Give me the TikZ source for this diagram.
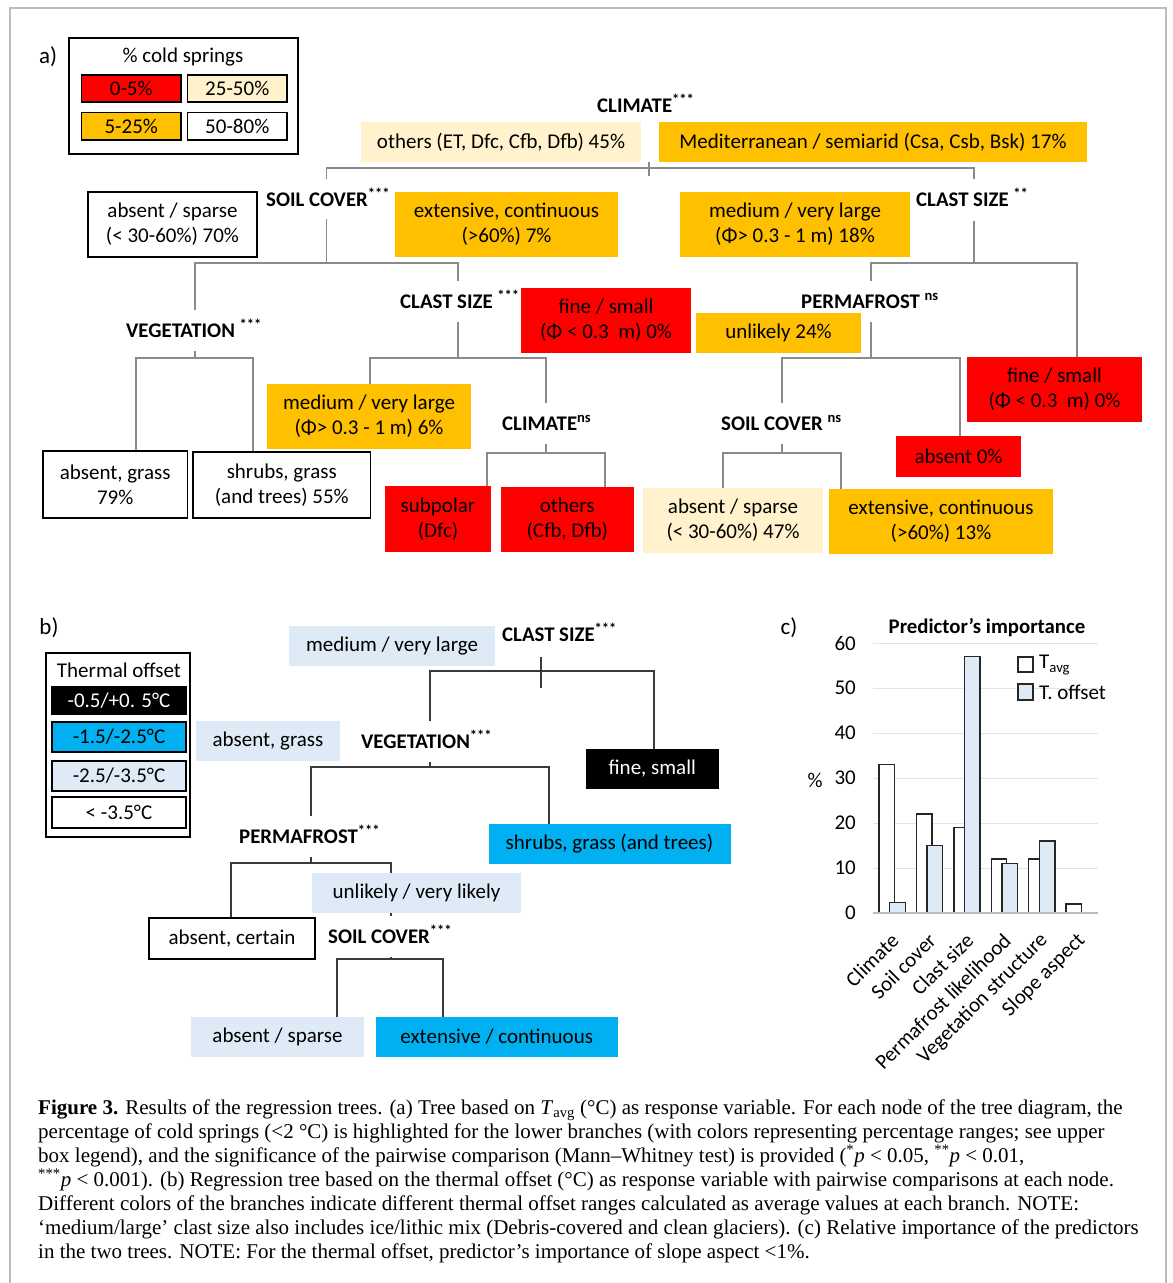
\documentclass[tikz,border=0pt]{standalone}
\usepackage{fontspec}
\setmainfont{Carlito}
\newfontfamily\capfont{Liberation Serif}
\definecolor{cRed}{HTML}{FF0000}
\definecolor{cOr}{HTML}{FFC000}
\definecolor{cCr}{HTML}{FFF2CC}
\definecolor{cLb}{HTML}{DEEBF7}
\definecolor{cBl}{HTML}{00B0F0}
\definecolor{cLnA}{HTML}{8A8A8A}
\definecolor{cLnB}{HTML}{3A3A3A}
\definecolor{cFr}{HTML}{BDBDBD}
\definecolor{cGrid}{HTML}{E3E3E3}
\newcommand\bx[7]{\node[tb,#6,minimum width={#4-#2},minimum height={#5-#3}] (#1) at ({(#2+#4)/2},{(#3+#5)/2}) {#7};}
\begin{document}
\begin{tikzpicture}[x=1pt,y=-1pt,
  tb/.style={inner sep=0pt, align=center, font=\fontsize{21}{25}\selectfont, text=black},
  lab/.style={inner sep=0pt, font=\bfseries\fontsize{20.8}{22}\selectfont, anchor=base west},
  la/.style={draw=cLnA, line width=1.3pt},
  lb/.style={draw=cLnB, line width=2pt},
  bord/.style={draw=black, line width=1.6pt},
  capl/.style={inner sep=0pt, anchor=base west, font=\capfont\fontsize{21}{24}\selectfont},
  bar/.style={draw=black!85, line width=1.4pt},
  tick/.style={inner sep=0pt, anchor=east, font=\fontsize{21}{24}\selectfont},
  xl/.style={inner sep=0pt, anchor=east, rotate=45, font=\fontsize{21}{24}\selectfont}]
\useasboundingbox (0,0) rectangle (1173,1283);
\fill[white] (0,0) rectangle (1173,1283);
\draw[cFr, line width=1.2pt] (10,1300) -- (10,8) -- (1166,8) -- (1166,1300);

% ================= PART A =================
\node[inner sep=0pt, font=\fontsize{23}{24}\selectfont] (pa) at (48,57) {a)};
% legend
\node[draw=black, line width=1.8pt, minimum width=229, minimum height=116, inner sep=0pt] (lega) at (183.5,96) {};
\node[inner sep=0pt, font=\fontsize{21}{24}\selectfont] (legat) at (183,57) {\% cold springs};
\bx{lg1}{81.5}{75}{181}{102}{fill=cRed,bord}{0-5\%}
\bx{lg2}{187.5}{75}{287}{102}{fill=cCr,bord}{25-50\%}
\bx{lg3}{81.5}{112.5}{181}{140}{fill=cOr,bord}{5-25\%}
\bx{lg4}{187.5}{112.5}{287}{140}{fill=white,bord}{50-80\%}

% connector coordinates (part a)
\coordinate (cJ) at (649,168);
\coordinate (tkT) at (649,162); \coordinate (tkB) at (649,176);
\coordinate (soilT) at (326.5,179); \coordinate (clsT) at (974,179);
\coordinate (soilB) at (326.5,219); \coordinate (soilJ) at (326.5,263);
\coordinate (vegT) at (195,310); \coordinate (cl3T) at (458,281);
\coordinate (vegB) at (195,351); \coordinate (vegJ) at (195,358);
\coordinate (agT) at (136,451); \coordinate (shT) at (253,452);
\coordinate (cl3B) at (458,322); \coordinate (cl3J) at (458,358);
\coordinate (m6T) at (370,384); \coordinate (cnsT) at (546,403);
\coordinate (cnsB) at (546,444); \coordinate (cnsJ) at (546,453);
\coordinate (spT) at (487,486); \coordinate (otT) at (605,487);
\coordinate (clsB) at (974,221); \coordinate (clsJ) at (974,263);
\coordinate (pfT) at (871,281); \coordinate (fbT) at (1077,357);
\coordinate (pfB) at (871,322); \coordinate (pfJ) at (871,358);
\coordinate (snsT) at (782,403); \coordinate (a0T) at (960,436);
\coordinate (snsB) at (782,444); \coordinate (snsJ) at (782,453);
\coordinate (s47T) at (723,488); \coordinate (s13T) at (841,489);

\draw[la] (soilT) |- (cJ) -| (clsT);
\draw[la] (tkT) -- (tkB);
\draw[la] (soilB) -- (soilJ);
\draw[la] (vegT) |- (soilJ) -| (cl3T);
\draw[la] (vegB) -- (vegJ);
\draw[la] (agT) |- (vegJ) -| (shT);
\draw[la] (cl3B) -- (cl3J);
\draw[la] (m6T) |- (cl3J) -| (cnsT);
\draw[la] (cnsB) -- (cnsJ);
\draw[la] (spT) |- (cnsJ) -| (otT);
\draw[la] (clsB) -- (clsJ);
\draw[la] (pfT) |- (clsJ) -| (fbT);
\draw[la] (pfB) -- (pfJ);
\draw[la] (snsT) |- (pfJ) -| (a0T);
\draw[la] (snsB) -- (snsJ);
\draw[la] (s47T) |- (snsJ) -| (s13T);

% labels
\node[lab] (climA) at (597,112) {CLIMATE\textsuperscript{***}};
\node[lab] (soilA) at (266,206) {SOIL COVER\textsuperscript{***}};
\node[lab] (clsA) at (916,206) {CLAST SIZE \textsuperscript{**}};
\node[lab] (cl3A) at (400,308) {CLAST SIZE \textsuperscript{***}};
\node[lab] (pfA) at (801,308) {PERMAFROST \textsuperscript{ns}};
\node[lab] (vegA) at (126,337) {VEGETATION \textsuperscript{***}};
\node[lab] (cnsA) at (502,430) {CLIMATE\textsuperscript{ns}};
\node[lab] (snsA) at (721,430) {SOIL COVER \textsuperscript{ns}};

% boxes
\bx{o45}{361}{122}{641}{162}{fill=cCr}{others (ET, Dfc, Cfb, Dfb) 45\%}
\bx{m17}{659}{122}{1087}{162}{fill=cOr}{Mediterranean / semiarid (Csa, Csb, Bsk) 17\%}
\bx{a70}{88}{192}{257}{257}{fill=white,bord}{absent / sparse\\(< 30-60\%) 70\%}
\bx{e7}{395}{192}{618}{257}{fill=cOr}{extensive, continuous\\(>60\%) 7\%}
\bx{m18}{680}{192}{910}{257}{fill=cOr}{medium / very large\\(Φ> 0.3 - 1 m) 18\%}
\bx{f0a}{521}{288}{691}{353}{fill=cRed}{fine / small\\(Φ < 0.3\ \ m) 0\%}
\bx{u24}{696}{313}{861}{353}{fill=cOr}{unlikely 24\%}
\bx{f0b}{967}{357}{1142}{422}{fill=cRed}{fine / small\\(Φ < 0.3\ \ m) 0\%}
\bx{m6}{267}{384}{471}{449}{fill=cOr}{medium / very large\\(Φ> 0.3 - 1 m) 6\%}
\bx{ag79}{43}{451}{187.5}{518}{fill=white,bord}{absent, grass\\79\%}
\bx{sh55}{193}{452}{370.5}{518}{fill=white,bord}{shrubs, grass\\(and trees) 55\%}
\bx{ab0}{896}{436}{1021}{477}{fill=cRed}{absent 0\%}
\bx{sp}{385}{486}{491}{552}{fill=cRed}{subpolar\\(Dfc)}
\bx{ot}{500.5}{487}{634}{552}{fill=cRed}{others\\(Cfb, Dfb)}
\bx{s47}{643}{488}{823}{553}{fill=cCr}{absent / sparse\\(< 30-60\%) 47\%}
\bx{s13}{829}{489}{1053}{554}{fill=cOr}{extensive, continuous\\(>60\%) 13\%}

% ================= PART B =================
\node[inner sep=0pt, font=\fontsize{23}{24}\selectfont] (pb) at (49,628) {b)};
\node[draw=black, line width=1.8pt, minimum width=144, minimum height=184, inner sep=0pt] (legb) at (118,745) {};
\node[inner sep=0pt, font=\fontsize{21}{24}\selectfont] (legbt) at (119,670) {Thermal offset};
\bx{lb1}{52}{687}{186}{714}{fill=black,bord,text=white}{-0.5/+0. 5°C}
\bx{lb2}{52}{722}{186}{752}{fill=cBl,bord}{-1.5/-2.5°C}
\bx{lb3}{52}{761}{186}{791}{fill=cLb,bord}{-2.5/-3.5°C}
\bx{lb4}{52}{797}{186}{828}{fill=white,bord}{< -3.5°C}

\coordinate (bJ) at (541,671);
\coordinate (btT) at (541,657); \coordinate (btB) at (541,688);
\coordinate (bvT) at (430,721); \coordinate (bfT) at (654,749);
\coordinate (bvB) at (430,762); \coordinate (bvJ) at (430,767);
\coordinate (bpT) at (311,816); \coordinate (bsT) at (549,824);
\coordinate (bpB) at (311,857); \coordinate (bpJ) at (311,863);
\coordinate (bacT) at (231,918); \coordinate (bscT) at (391,916);
\coordinate (bscB) at (391,957); \coordinate (bscJ) at (391,959);
\coordinate (bssT) at (337,1017); \coordinate (becT) at (443,1017);

\draw[lb] (bvT) |- (bJ) -| (bfT);
\draw[lb] (btT) -- (btB);
\draw[lb] (bvB) -- (bvJ);
\draw[lb] (bpT) |- (bvJ) -| (bsT);
\draw[lb] (bpB) -- (bpJ);
\draw[lb] (bacT) |- (bpJ) -| (bscT);
\draw[lb] (bscB) -- (bscJ);
\draw[lb] (bssT) |- (bscJ) -| (becT);

\node[lab] (bcl) at (502,641) {CLAST SIZE\textsuperscript{***}};
\node[lab] (bveg) at (361,748) {VEGETATION\textsuperscript{***}};
\node[lab] (bpf) at (239,843) {PERMAFROST\textsuperscript{***}};
\node[lab] (bsc) at (328,943) {SOIL COVER\textsuperscript{***}};

\bx{bm}{289}{626}{495}{666}{fill=cLb}{medium / very large}
\bx{bf}{585.5}{749}{719}{789}{fill=black,text=white}{fine, small}
\bx{bag}{196}{721}{340}{761}{fill=cLb}{absent, grass}
\bx{bsh}{488.5}{824}{730.5}{864}{fill=cBl}{shrubs, grass (and trees)}
\bx{bun}{312}{873}{521}{913}{fill=cLb}{unlikely / very likely}
\bx{bac}{149}{918}{315}{959}{fill=white,bord}{absent, certain}
\bx{bas}{191}{1017}{364}{1057}{fill=cLb}{absent / sparse}
\bx{bec}{376}{1017}{617.5}{1057}{fill=cBl}{extensive / continuous}

% ================= PART C =================
\node[inner sep=0pt, font=\fontsize{23}{24}\selectfont] (pc) at (789,628) {c)};
\node[inner sep=0pt, font=\bfseries\fontsize{20.8}{22}\selectfont] (ctitle) at (987,628) {Predictor’s importance};
\foreach \v in {10,20,...,60} {\draw[cGrid, line width=1pt] (873,{913-4.5*\v}) -- (1098,{913-4.5*\v});}
\foreach \v in {0,10,...,60} {\node[tick] at (856,{913-4.5*\v}) {\v};}
\node[inner sep=0pt, font=\fontsize{21}{24}\selectfont] (pct) at (815,780) {\%};
% bars: white (T avg)
\foreach \k/\w in {0/33,1/22,2/19,3/12,4/12,5/2} {
  \draw[bar, fill=white] ({879+37.4*\k},913) rectangle ({879+37.4*\k+15.5},{913-4.5*\w});}
\foreach \k/\w in {0/2.3,1/15,2/57,3/11,4/16} {
  \draw[bar, fill=cLb] ({889.7+37.4*\k},913) rectangle ({889.7+37.4*\k+15.5},{913-4.5*\w});}
\draw[cFr, line width=2pt] (873,913) -- (1098,913);
\foreach \k/\t in {0/Climate,1/Soil cover,2/Clast size,3/Permafrost likelihood,4/Vegetation structure,5/Slope aspect} {
  \node[xl] at ({879+37.4*\k+16},937) {\t};}
% legend c
\draw[bar, fill=white] (1018,657) rectangle (1033,672);
\node[inner sep=0pt, anchor=west, font=\fontsize{21}{24}\selectfont] (ltavg) at (1039,665) {T\textsubscript{avg}};
\draw[bar, fill=cLb] (1018,684) rectangle (1033,700);
\node[inner sep=0pt, anchor=west, font=\fontsize{21}{24}\selectfont] (ltoff) at (1039,692) {T. offset};

% ================= CAPTION =================
\node[capl] (c1) at (38,1114) {\textbf{Figure 3.} Results of the regression trees. (a) Tree based on \textit{T}\textsubscript{avg} (°C) as response variable. For each node of the tree diagram, the};
\node[capl] (c2) at (38,1138) {percentage of cold springs (<2 °C) is highlighted for the lower branches (with colors representing percentage ranges; see upper};
\node[capl] (c3) at (38,1162) {box legend), and the significance of the pairwise comparison (Mann–Whitney test) is provided (\textsuperscript{*}\textit{p} < 0.05, \textsuperscript{**}\textit{p} < 0.01,};
\node[capl] (c4) at (38,1186) {\textsuperscript{***}\textit{p} < 0.001). (b) Regression tree based on the thermal offset (°C) as response variable with pairwise comparisons at each node.};
\node[capl] (c5) at (38,1210) {Different colors of the branches indicate different thermal offset ranges calculated as average values at each branch. NOTE:};
\node[capl] (c6) at (38,1234) {‘medium/large’ clast size also includes ice/lithic mix (Debris-covered and clean glaciers). (c) Relative importance of the predictors};
\node[capl] (c7) at (38,1258) {in the two trees. NOTE: For the thermal offset, predictor’s importance of slope aspect <1\%.};
\end{tikzpicture}
\end{document}
